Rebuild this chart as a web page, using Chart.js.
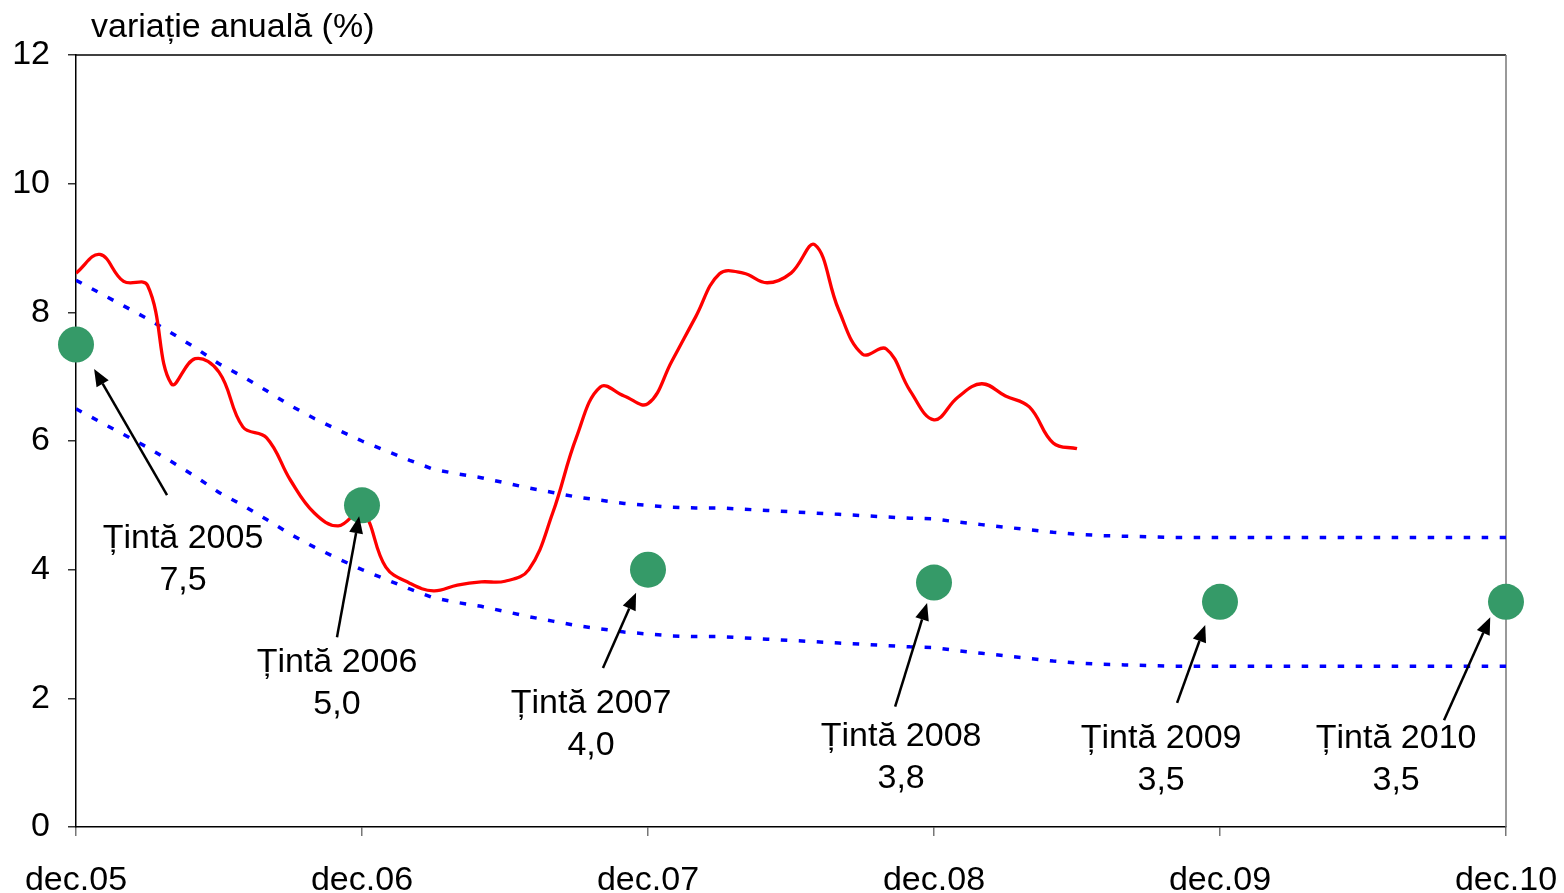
<!DOCTYPE html>
<html>
<head>
<meta charset="utf-8">
<script src="https://cdn.jsdelivr.net/npm/chart.js@4.4.0/dist/chart.umd.min.js"></script>
<style>
  html, body { margin: 0; padding: 0; background: #ffffff; }
  #wrap { width: 1564px; height: 893px; }
</style>
</head>
<body>
<div id="wrap"><canvas id="c" width="1564" height="893" style="width:1564px;height:893px"></canvas></div>
<script>
// ---- data (months counted from dec.05 = 0) ----
const xTickLabels = ['dec.05', 'dec.06', 'dec.07', 'dec.08', 'dec.09', 'dec.10'];
const yTicks = [0, 2, 4, 6, 8, 10, 12];

// annual CPI inflation, monthly dec.05 ... jun.09
const inflation = [8.61, 8.9, 8.48, 8.42, 6.89, 7.28, 7.07, 6.22, 6.05, 5.39, 4.88, 4.68,
  4.9, 4.04, 3.79, 3.67, 3.76, 3.81, 3.82, 4.0, 4.88, 6.06, 6.84, 6.7,
  6.58, 7.24, 7.93, 8.6, 8.61, 8.46, 8.61, 9.05, 8.04, 7.35, 7.43, 6.78,
  6.33, 6.68, 6.89, 6.70, 6.53, 5.97, 5.88];

// upper band of the target interval, monthly dec.05 ... dec.10
const bandUpper = [8.5, 8.3, 8.1, 7.9, 7.68, 7.45, 7.2, 7.0, 6.78, 6.55, 6.35, 6.17,
  6.0, 5.85, 5.7, 5.56, 5.49, 5.43, 5.35, 5.27, 5.2, 5.13, 5.08, 5.03,
  5.0, 4.97, 4.96, 4.96, 4.94, 4.92, 4.9, 4.88, 4.86, 4.84, 4.82, 4.8,
  4.79, 4.74, 4.7, 4.66, 4.62, 4.58, 4.55, 4.53, 4.52, 4.51, 4.5, 4.5,
  4.5, 4.5, 4.5, 4.5, 4.5, 4.5, 4.5, 4.5, 4.5, 4.5, 4.5, 4.5, 4.5];

// lower band of the target interval
const bandLower = [6.5, 6.3, 6.1, 5.9, 5.68, 5.45, 5.2, 5.0, 4.78, 4.55, 4.35, 4.17,
  4.0, 3.85, 3.7, 3.56, 3.49, 3.43, 3.35, 3.27, 3.2, 3.13, 3.08, 3.03,
  3.0, 2.97, 2.96, 2.96, 2.94, 2.92, 2.9, 2.88, 2.86, 2.84, 2.82, 2.8,
  2.79, 2.74, 2.7, 2.66, 2.62, 2.58, 2.55, 2.53, 2.52, 2.51, 2.5, 2.5,
  2.5, 2.5, 2.5, 2.5, 2.5, 2.5, 2.5, 2.5, 2.5, 2.5, 2.5, 2.5, 2.5];

// annual targets (points at each december)
const targetYears = ['2005', '2006', '2007', '2008', '2009', '2010'];
const targetMonths = [0, 12, 24, 36, 48, 60];
const targetValues = [7.5, 5.0, 4.0, 3.8, 3.5, 3.5];
const targetTexts = ['7,5', '5,0', '4,0', '3,8', '3,5', '3,5'];

// callout placement (in axis units: month, value)
const calloutLabelPos = [[4.49, 4.49], [10.95, 2.56], [21.61, 1.91], [34.62, 1.40], [45.53, 1.38], [55.39, 1.37]];
const calloutTail = [[3.82, 5.16], [10.95, 2.95], [22.11, 2.47], [34.37, 1.87], [46.2, 1.93], [57.4, 1.66]];
const calloutHead = [[0.76, 7.12], [11.88, 4.83], [23.5, 3.64], [35.71, 3.48], [47.38, 3.14], [59.34, 3.26]];

const FONT = "'Liberation Sans', Arial, sans-serif";
const FS = 34;
const toXY = arr => arr.map((v, i) => ({ x: i, y: v }));

const framePlugin = {
  id: 'frame',
  beforeDatasetsDraw(chart) {
    const { ctx, chartArea: a } = chart;
    ctx.save();
    ctx.strokeStyle = '#000000';
    ctx.lineWidth = 1.5;
    ctx.beginPath(); ctx.moveTo(a.left, a.top); ctx.lineTo(a.right, a.top); ctx.stroke();
    ctx.strokeStyle = '#777777';
    ctx.beginPath(); ctx.moveTo(a.right, a.top); ctx.lineTo(a.right, a.bottom); ctx.stroke();
    ctx.restore();
  },
  afterDraw(chart) {
    const { ctx } = chart;
    ctx.save();
    ctx.fillStyle = '#000000';
    ctx.font = FS + 'px ' + FONT;
    ctx.textAlign = 'left';
    ctx.textBaseline = 'alphabetic';
    ctx.fillText('variație anuală (%)', 91, 37);
    ctx.restore();
  }
};

const calloutPlugin = {
  id: 'callouts',
  afterDatasetsDraw(chart) {
    const { ctx, scales } = chart;
    const X = scales.x, Y = scales.y;
    ctx.save();
    for (let i = 0; i < targetYears.length; i++) {
      const tx = X.getPixelForValue(calloutTail[i][0]), ty = Y.getPixelForValue(calloutTail[i][1]);
      const hx = X.getPixelForValue(calloutHead[i][0]), hy = Y.getPixelForValue(calloutHead[i][1]);
      const ang = Math.atan2(hy - ty, hx - tx);
      const L = 17, W = 7;
      const bx = hx - L * Math.cos(ang), by = hy - L * Math.sin(ang);
      ctx.strokeStyle = '#000000';
      ctx.lineWidth = 2.5;
      ctx.beginPath(); ctx.moveTo(tx, ty); ctx.lineTo(bx, by); ctx.stroke();
      ctx.fillStyle = '#000000';
      ctx.beginPath();
      ctx.moveTo(hx, hy);
      ctx.lineTo(bx + W * Math.sin(ang), by - W * Math.cos(ang));
      ctx.lineTo(bx - W * Math.sin(ang), by + W * Math.cos(ang));
      ctx.closePath(); ctx.fill();

      const lx = X.getPixelForValue(calloutLabelPos[i][0]);
      const ly = Y.getPixelForValue(calloutLabelPos[i][1]);
      ctx.font = FS + 'px ' + FONT;
      ctx.textAlign = 'center';
      ctx.textBaseline = 'middle';
      ctx.fillText('Țintă ' + targetYears[i], lx, ly);
      ctx.fillText(targetTexts[i], lx, ly + 42);
    }
    ctx.restore();
  }
};

new Chart(document.getElementById('c'), {
  type: 'line',
  data: {
    datasets: [
      {
        label: 'Ținte',
        data: targetMonths.map((m, i) => ({ x: m, y: targetValues[i] })),
        showLine: false,
        pointRadius: 18,
        pointHoverRadius: 18,
        pointBackgroundColor: '#359a68',
        pointBorderColor: '#359a68',
        pointBorderWidth: 0,
        clip: false,
        order: 0
      },
      {
        label: 'Inflație',
        data: toXY(inflation),
        borderColor: '#ff0000',
        borderWidth: 3.3,
        pointRadius: 0,
        tension: 0.4,
        fill: false,
        order: 1
      },
      {
        label: 'Limita superioară',
        data: toXY(bandUpper),
        borderColor: '#0000ff',
        borderWidth: 3.5,
        borderDash: [6.5, 11.5],
        pointRadius: 0,
        tension: 0,
        fill: false,
        order: 2
      },
      {
        label: 'Limita inferioară',
        data: toXY(bandLower),
        borderColor: '#0000ff',
        borderWidth: 3.5,
        borderDash: [6.5, 11.5],
        pointRadius: 0,
        tension: 0,
        fill: false,
        order: 2
      }
    ]
  },
  options: {
    responsive: false,
    animation: false,
    devicePixelRatio: 1,
    layout: { padding: { left: 0, top: 55, right: 58, bottom: 0 } },
    plugins: { legend: { display: false }, title: { display: false }, tooltip: { enabled: false } },
    scales: {
      x: {
        type: 'linear',
        min: 0, max: 60,
        afterBuildTicks(scale) { scale.ticks = xTickLabels.map((_, i) => ({ value: i * 12 })); },
        afterFit(scale) { scale.height = 66; scale.paddingLeft = 0; scale.paddingRight = 0; },
        ticks: {
          autoSkip: false,
          maxRotation: 0,
          padding: 24,
          color: '#000000',
          font: { family: FONT, size: FS },
          callback: (v) => xTickLabels[Math.round(v / 12)]
        },
        grid: { drawOnChartArea: false, drawTicks: true, tickLength: 9, color: '#777777', lineWidth: 1.5 },
        border: { display: true, color: '#000000', width: 1.5 }
      },
      y: {
        min: 0, max: 12,
        afterBuildTicks(scale) { scale.ticks = yTicks.map(v => ({ value: v })); },
        afterFit(scale) { scale.width = 76; scale.paddingTop = 0; scale.paddingBottom = 0; },
        ticks: {
          padding: 18,
          color: '#000000',
          font: { family: FONT, size: FS },
          callback: (v) => String(v)
        },
        grid: { drawOnChartArea: false, drawTicks: true, tickLength: 8, color: '#333333', lineWidth: 1.5 },
        border: { display: true, color: '#000000', width: 1.5 }
      }
    }
  },
  plugins: [framePlugin, calloutPlugin]
});
</script>
</body>
</html>
